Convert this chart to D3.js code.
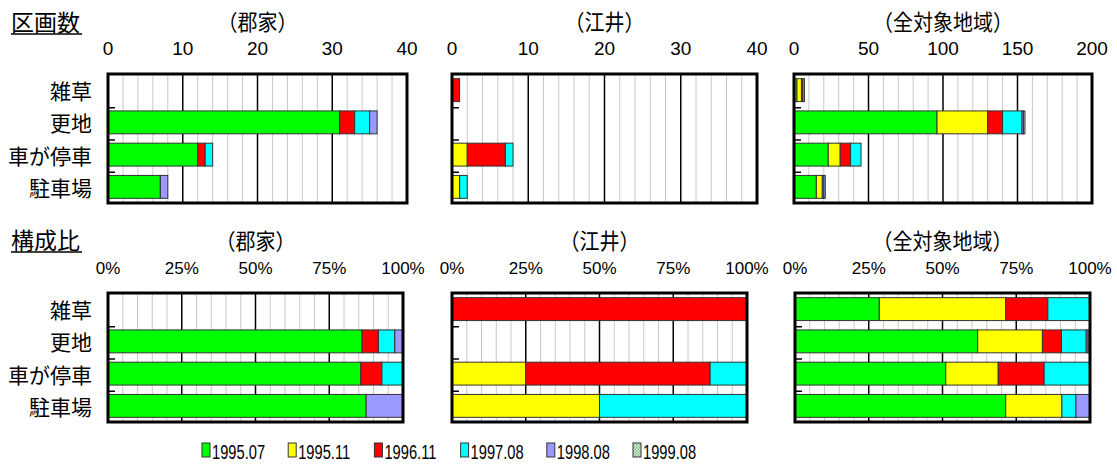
<!DOCTYPE html>
<html>
<head>
<meta charset="utf-8">
<script src="https://cdn.jsdelivr.net/npm/d3@7"></script>
<style>
  body { margin: 0; background: #fff; }
  svg { display: block; }
</style>
</head>
<body>
<div id="chart"></div>
<script>
/* data */
const categories = ["雑草", "更地", "車が停車", "駐車場"];
const seriesNames = ["1995.07", "1995.11", "1996.11", "1997.08", "1998.08", "1999.08"];
const regionNames = ["（郡家）", "（江井）", "（全対象地域）"];

// rows = categories, columns = series
const gunge = [[0, 0, 0, 0, 0, 0], [31, 0, 2, 2, 1, 0], [12, 0, 1, 1, 0, 0], [7, 0, 0, 0, 1, 0]];
const ei = [[0, 0, 1, 0, 0, 0], [0, 0, 0, 0, 0, 0], [0, 2, 5, 1, 0, 0], [0, 1, 0, 1, 0, 0]];
const allAreas = [[2, 3, 1, 1, 0, 0], [96, 34, 10, 13, 1, 1], [23, 8, 7, 7, 0, 0], [15, 4, 0, 1, 1, 0]];

const countMax = [40, 40, 200];
const countTicks = [[0, 10, 20, 30, 40], [0, 10, 20, 30, 40], [0, 50, 100, 150, 200]];
const countMinorStep = [2, 2, 10];
const pctTicks = [0, 25, 50, 75, 100];

/* styles */
const colors = ["#00ff00", "#ffff00", "#ff0000", "#00ffff", "#9999ff", "url(#dots)"];
const cjk = "'Noto Sans CJK JP', sans-serif";
const latin = "'Liberation Sans', Arial, sans-serif";

let width = 1117, height = 464;

let svg = d3.select("#chart").append("svg")
  .attr("width", width)
  .attr("height", height);

// checkered fill for 1999.08
let pat = svg.append("defs").append("pattern")
  .attr("id", "dots")
  .attr("width", 3).attr("height", 3)
  .attr("patternUnits", "userSpaceOnUse");
pat.append("rect").attr("width", 3).attr("height", 3).attr("fill", "#d8f5d8");
pat.append("rect").attr("width", 1.5).attr("height", 1.5).attr("fill", "#88bb88");
pat.append("rect").attr("x", 1.5).attr("y", 1.5).attr("width", 1.5).attr("height", 1.5).attr("fill", "#88bb88");

const regionData = [gunge, ei, allAreas];

// frame positions
const topBoxes = [[108, 407], [452, 757], [794, 1092]];
const botBoxes = [[108, 403], [452, 747], [795, 1090]];
const topY = [74, 203], botY = [293, 422];

function sectionTitle(text, y) {
  svg.append("text")
    .attr("x", 11).attr("y", y)
    .style("font-family", cjk)
    .style("font-size", "23px")
    .text(text);
  svg.append("line")
    .attr("x1", 11).attr("x2", 82)
    .attr("y1", y + 3).attr("y2", y + 3)
    .attr("stroke", "#000").attr("stroke-width", 1.5);
}

function panel(box, yr, rows, maxV, ticks, minorStep, pct, title, showCats) {
  let x = d3.scaleLinear().domain([0, maxV]).range(box);
  let y = d3.scaleBand().domain(categories).range(yr).paddingInner(0.29).paddingOuter(0.145);
  let band = d3.scaleBand().domain(categories).range(yr);
  let g = svg.append("g");

  // title + tick labels
  g.append("text")
    .attr("x", (box[0] + box[1]) / 2)
    .attr("y", yr[0] - 44)
    .attr("text-anchor", "middle")
    .attr("textLength", title.length * 20)
    .attr("lengthAdjust", "spacingAndGlyphs")
    .style("font-family", cjk)
    .style("font-size", "22px")
    .text(title);

  g.selectAll(".tl").data(ticks).enter().append("text")
    .attr("x", d => x(d))
    .attr("y", yr[0] - 19)
    .attr("text-anchor", "middle")
    .style("font-family", latin)
    .style("font-size", pct ? "17px" : "19px")
    .text(d => pct ? d + "%" : d);

  // gridlines
  let minor = d3.range(0, maxV + 0.001, minorStep).filter(v => ticks.indexOf(v) < 0);
  g.selectAll(".mg").data(minor).enter().append("line")
    .attr("x1", d => x(d)).attr("x2", d => x(d))
    .attr("y1", yr[0]).attr("y2", yr[1])
    .attr("stroke", "#c8c8c8").attr("stroke-width", 1);
  g.selectAll(".Mg").data(ticks.slice(1, -1)).enter().append("line")
    .attr("x1", d => x(d)).attr("x2", d => x(d))
    .attr("y1", yr[0]).attr("y2", yr[1])
    .attr("stroke", "#000").attr("stroke-width", 1.5);

  // stacked bars
  let table = rows.map((r, i) => {
    let o = { cat: categories[i] };
    seriesNames.forEach((s, j) => o[s] = r[j]);
    return o;
  });
  let stack = d3.stack().keys(seriesNames);
  if (pct) stack.offset(d3.stackOffsetExpand);
  let series = stack(table);
  if (pct) series.forEach(s => s.forEach(d => { d[0] *= 100; d[1] *= 100; }));

  series.forEach((s, j) => {
    g.selectAll(".b" + j).data(s.filter(d => d[1] - d[0] > 0)).enter().append("rect")
      .attr("x", d => x(d[0]))
      .attr("width", d => x(d[1]) - x(d[0]))
      .attr("y", d => y(d.data.cat))
      .attr("height", y.bandwidth())
      .attr("fill", colors[j])
      .attr("stroke", "#333")
      .attr("stroke-width", 1);
  });

  // category ticks on the inner left edge
  g.selectAll(".ct").data(categories.slice(1)).enter().append("line")
    .attr("x1", box[0]).attr("x2", box[0] + 7)
    .attr("y1", d => band(d) + 1.5).attr("y2", d => band(d) + 1.5)
    .attr("stroke", "#000").attr("stroke-width", 1.5);

  // frame
  g.append("rect")
    .attr("x", box[0]).attr("y", yr[0])
    .attr("width", box[1] - box[0]).attr("height", yr[1] - yr[0])
    .attr("fill", "none").attr("stroke", "#000").attr("stroke-width", 3);

  if (showCats) {
    g.selectAll(".cl").data(categories).enter().append("text")
      .attr("x", 92)
      .attr("y", d => band(d) + band.bandwidth() / 2 + 9)
      .attr("text-anchor", "end")
      .style("font-family", cjk)
      .style("font-size", "21px")
      .text(d => d);
  }
}

sectionTitle("区画数", 31);
sectionTitle("構成比", 249);

regionData.forEach((rows, i) => {
  panel(topBoxes[i], topY, rows, countMax[i], countTicks[i], countMinorStep[i], false, regionNames[i], i === 0);
  panel(botBoxes[i], botY, rows, 100, pctTicks, 5, true, regionNames[i], i === 0);
});

// legend (text squeezed horizontally like the original)
let legend = svg.append("g");
seriesNames.forEach((s, i) => {
  let lx = 202 + i * 86.2;
  legend.append("rect")
    .attr("x", lx).attr("y", 443)
    .attr("width", 8).attr("height", 14)
    .attr("fill", colors[i]).attr("stroke", "#333").attr("stroke-width", 1);
  legend.append("text")
    .attr("transform", `translate(${lx + 10},458.5) scale(0.7,1)`)
    .style("font-family", latin)
    .style("font-size", "21px")
    .text(s);
});
</script>
</body>
</html>
